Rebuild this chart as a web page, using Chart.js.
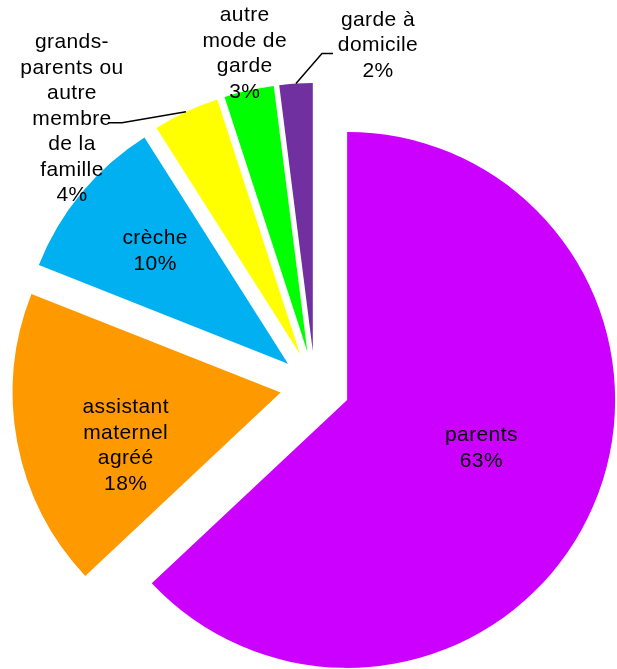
<!doctype html>
<html lang="fr">
<head>
  <meta charset="utf-8">
  <title>Mode de garde</title>
  <style>
    * {
      margin: 0;
      padding: 0;
    }
    body {
      background: white;
    }
    .chartBox {
      width: 617px;
      height: 669px;
      position: relative;
    }
  </style>
</head>
<body>
  <div class="chartBox">
    <canvas id="myChart"></canvas>
  </div>

  <script src="https://cdn.jsdelivr.net/npm/chart.js"></script>
  <script>
    // data
    const categories = [
      ['parents'],
      ['assistant', 'maternel', 'agréé'],
      ['crèche'],
      ['grands-', 'parents ou', 'autre', 'membre', 'de la', 'famille'],
      ['autre', 'mode de', 'garde'],
      ['garde à', 'domicile']
    ];
    const shares = [63, 18, 10, 4, 3, 2];
    const colors = ['#CC00FF', '#FF9900', '#00B0F0', '#FFFF00', '#00FF00', '#7030A0'];

    // layout of the labels, relative to each slice (r = fraction of radius along the slice middle)
    const labelPlace = [
      { r: 0.55, dx: -1, dy: -10 },
      { r: 0.60, dx: 3, dy: 23 },
      { r: 0.60, dx: -9, dy: -10 },
      { r: 1.00, dx: -114, dy: 7, leader: [[-64, 11], [-78, 11]] },
      { r: 1.14, dx: 4, dy: 0 },
      { r: 1.00, dx: 82, dy: -38, leader: [[26, -30], [37, -30]] }
    ];

    const EXPLODE = 35;   // every slice pulled out by the same distance
    const LINE = 25.5;    // label line height

    // draw each arc moved out along its middle angle
    const explodePlugin = {
      id: 'explode',
      beforeDatasetDraw(chart, args) {
        const ctx = chart.ctx;
        args.meta.data.forEach(arc => {
          const mid = (arc.startAngle + arc.endAngle) / 2;
          ctx.save();
          ctx.translate(Math.cos(mid) * EXPLODE, Math.sin(mid) * EXPLODE);
          arc.draw(ctx);
          ctx.restore();
        });
        return false;
      }
    };

    // data labels with leader lines
    const labelPlugin = {
      id: 'sliceLabels',
      afterDatasetsDraw(chart) {
        const ctx = chart.ctx;
        const arcs = chart.getDatasetMeta(0).data;
        ctx.save();
        ctx.font = '21px "Liberation Sans", Arial, sans-serif';
        ctx.fillStyle = 'black';
        ctx.strokeStyle = 'black';
        ctx.lineWidth = 1.5;
        ctx.textAlign = 'center';
        ctx.textBaseline = 'middle';
        if ('letterSpacing' in ctx) ctx.letterSpacing = '0.4px';

        arcs.forEach((arc, i) => {
          const p = labelPlace[i];
          const mid = (arc.startAngle + arc.endAngle) / 2;
          const cos = Math.cos(mid), sin = Math.sin(mid);
          const cx = arc.x + cos * EXPLODE;
          const cy = arc.y + sin * EXPLODE;
          const ax = cx + cos * arc.outerRadius * p.r;
          const ay = cy + sin * arc.outerRadius * p.r;

          if (p.leader) {
            const ox = cx + cos * arc.outerRadius;
            const oy = cy + sin * arc.outerRadius;
            ctx.beginPath();
            ctx.moveTo(ox, oy);
            p.leader.forEach(pt => ctx.lineTo(ox + pt[0], oy + pt[1]));
            ctx.stroke();
          }

          const lines = categories[i].concat([shares[i] + '%']);
          const lx = ax + p.dx, ly = ay + p.dy;
          lines.forEach((t, j) => {
            ctx.fillText(t, lx, ly + (j - (lines.length - 1) / 2) * LINE);
          });
        });
        ctx.restore();
      }
    };

    const config = {
      type: 'pie',
      data: {
        labels: categories.map(c => c.join(' ')),
        datasets: [{
          data: shares,
          backgroundColor: colors,
          borderWidth: 0,
          clip: false
        }]
      },
      options: {
        responsive: true,
        maintainAspectRatio: false,
        animation: false,
        radius: 268,
        layout: {
          padding: { left: 13, right: 0, top: 103, bottom: 0 }
        },
        plugins: {
          legend: { display: false },
          tooltip: { enabled: false }
        }
      },
      plugins: [explodePlugin, labelPlugin]
    };

    const myChart = new Chart(document.getElementById('myChart'), config);
  </script>
</body>
</html>
